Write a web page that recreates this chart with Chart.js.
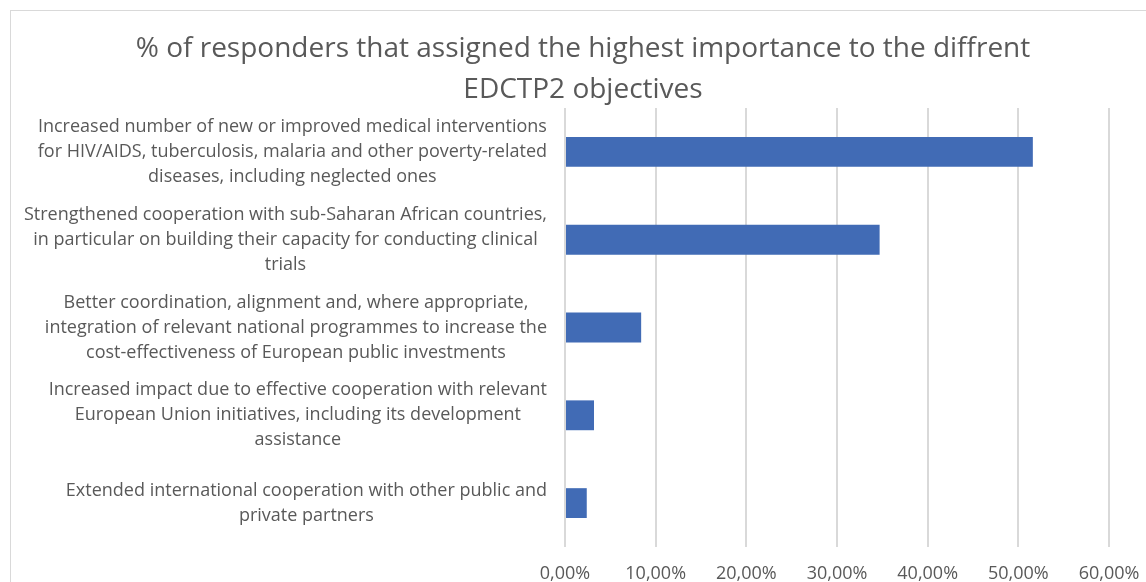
<!DOCTYPE html>
<html>
<head>
<meta charset="utf-8">
<script src="https://cdn.jsdelivr.net/npm/chart.js@4.4.1/dist/chart.umd.min.js"></script>
<style>
  html, body { margin: 0; padding: 0; background: #fff; overflow: hidden; }
  #wrap { position: relative; width: 1146px; height: 582px; }
  #frame { position: absolute; left: 10px; top: 10px; width: 1200px; height: 700px; border: 1px solid #d9d9d9; box-sizing: border-box; }
  #chart { position: absolute; left: 0; top: 0; }
</style>
</head>
<body>
<div id="wrap">
  <div id="frame"></div>
  <canvas id="chart" width="1146" height="582"></canvas>
</div>
<script>
const titleLines = ['% of responders that assigned the highest importance to the diffrent', 'EDCTP2 objectives'];
const objectives = [
    ['Increased number of new or improved medical interventions', 'for HIV/AIDS, tuberculosis, malaria and other poverty-related', 'diseases, including neglected ones'],
    ['Strengthened cooperation with sub-Saharan African countries,', 'in particular on building their capacity for conducting clinical', 'trials'],
    ['Better coordination, alignment and, where appropriate,', 'integration of relevant national programmes to increase the', 'cost-effectiveness of European public investments'],
    ['Increased impact due to effective cooperation with relevant', 'European Union initiatives, including its development', 'assistance'],
    ['Extended international cooperation with other public and', 'private partners']
];
const shareHighest = [51.6, 34.7, 8.4, 3.2, 2.4];
const xTicks = [0, 10, 20, 30, 40, 50, 60];

const grey = '#595959';
const fontFam = '"Open Sans", sans-serif';

// excel style category labels: each block right aligned, lines centred inside it
const objectiveLabels = {
    id: 'objectiveLabels',
    afterDraw(chart) {
        const {ctx, scales: {y}} = chart;
        ctx.save();
        ctx.font = '18px ' + fontFam;
        ctx.fillStyle = grey;
        ctx.textAlign = 'center';
        ctx.textBaseline = 'middle';
        objectives.forEach((lines, i) => {
            const widest = Math.max(...lines.map(l => ctx.measureText(l).width));
            const cx = y.right - 18 - widest / 2;
            const cy = y.getPixelForValue(i);
            lines.forEach((line, j) => {
                ctx.fillText(line, cx, cy + (j - (lines.length - 1) / 2) * 25);
            });
        });
        ctx.restore();
    }
};

const ctx = document.getElementById('chart').getContext('2d');
const chart = new Chart(ctx, {
    type: 'bar',
    data: {
        labels: objectives,
        datasets: [{
            label: 'Highest importance',
            data: shareHighest,
            backgroundColor: '#416bb5',
            borderWidth: 0,
            barPercentage: 0.34,
            categoryPercentage: 1
        }]
    },
    options: {
        indexAxis: 'y',
        responsive: false,
        animation: false,
        layout: { padding: { left: 57, right: 37, top: 10, bottom: 0 } },
        plugins: {
            legend: { display: false },
            tooltip: { enabled: false },
            title: {
                display: true,
                text: titleLines,
                color: grey,
                font: { family: fontFam, size: 28, weight: 'normal', lineHeight: 41 / 28 },
                padding: { top: 19, bottom: -3 }
            }
        },
        scales: {
            x: {
                min: 0,
                max: 60,
                afterBuildTicks: (s) => { s.ticks = xTicks.map(v => ({ value: v })); },
                afterFit: (s) => { s.height = 35; s.paddingLeft = 0; s.paddingRight = 0; },
                grid: { color: '#d9d9d9', lineWidth: 2, drawTicks: false },
                border: { display: false },
                ticks: {
                    color: grey,
                    padding: 16,
                    font: { family: fontFam, size: 18 },
                    callback: (v) => v.toFixed(2).replace('.', ',') + '%'
                }
            },
            y: {
                afterFit: (s) => { s.width = 565 - 57; },
                grid: { display: false, drawTicks: false },
                border: { display: false },
                ticks: { display: false }
            }
        }
    },
    plugins: [objectiveLabels]
});
</script>
</body>
</html>
